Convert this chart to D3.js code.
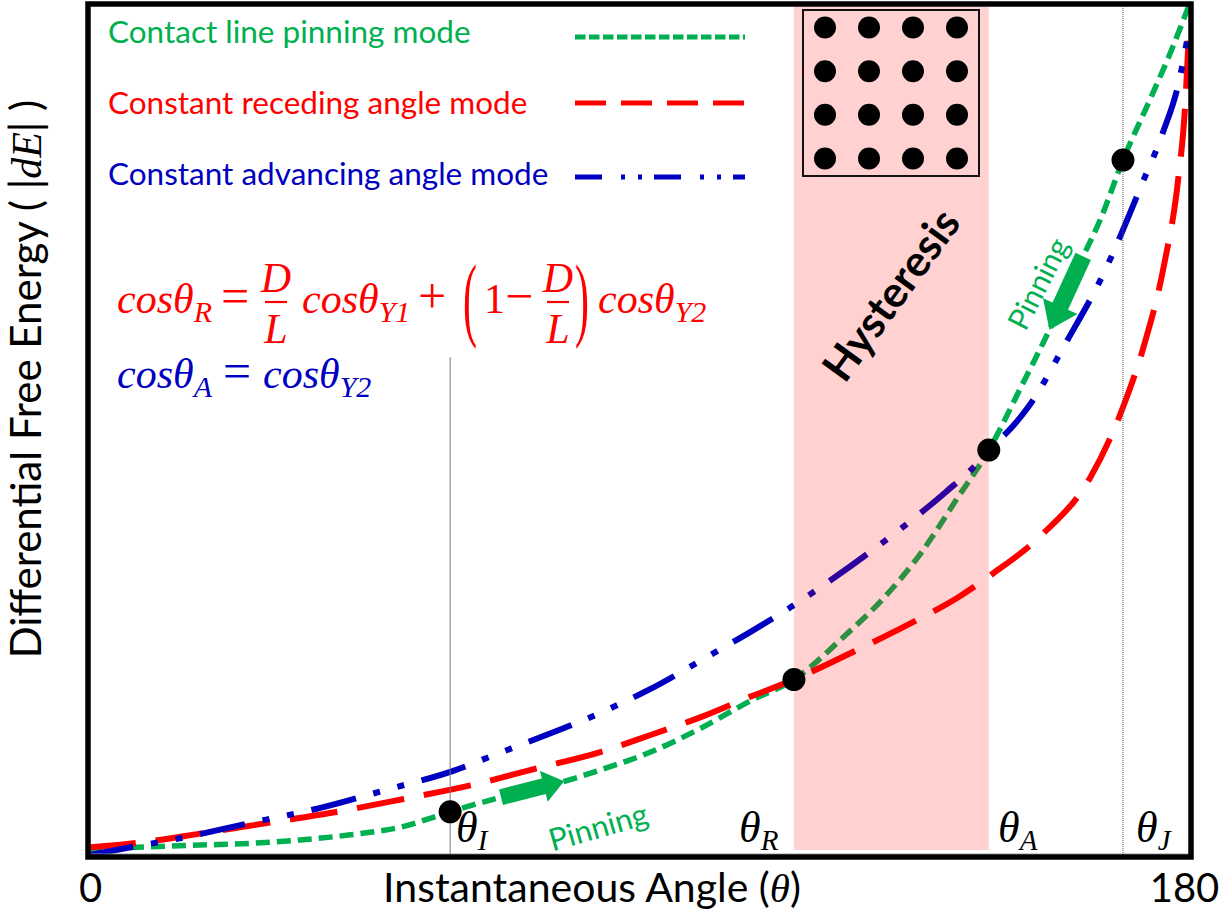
<!DOCTYPE html>
<html>
<head>
<meta charset="utf-8">
<script src="https://cdn.jsdelivr.net/npm/d3@7"></script>
<style>
  html, body { margin: 0; padding: 0; background: #fff; }
  svg { display: block; }
</style>
</head>
<body>
<svg id="chart" width="1231" height="919"></svg>
<script>
// Differential free energy |dE| against instantaneous contact angle θ (degrees)
// for the three droplet evaporation modes.
const pinningTheta  = [0, 10.1, 18.3, 26.5, 34.6, 42.8, 51.0, 59.1, 67.3, 75.5, 83.6, 91.8, 100.0, 108.1, 115.2, 123.3, 129.9, 135.9, 141.9, 147.0, 152.2, 157.1, 162.0, 165.3, 168.9, 173.5, 176.7, 179.7];
const pinningEnergy = [0.9, 1.2, 1.4, 1.6, 2.0, 2.6, 3.5, 5.3, 7.0, 8.4, 10.2, 12.3, 15.1, 18.3, 20.8, 25.8, 30.4, 35.6, 42.1, 47.7, 55.0, 62.1, 69.8, 74.9, 81.7, 89.1, 94.4, 99.9];

const recedingTheta  = [0, 7.4, 18.8, 29.4, 40.7, 51.5, 62.4, 73.3, 83.6, 91.8, 100.0, 108.1, 115.2, 125.6, 135.6, 141.9, 147.8, 155.7, 163.5, 169.1, 172.3, 175.6, 177.9, 179.0, 179.7];
const recedingEnergy = [1.1, 1.6, 2.8, 4.0, 5.3, 6.8, 8.4, 10.4, 12.3, 14.3, 16.4, 18.8, 20.8, 24.3, 27.9, 30.4, 33.3, 37.8, 44.4, 53.1, 59.9, 69.4, 79.4, 87.6, 97.2];

const advancingTheta  = [0, 7.4, 15.0, 26.5, 37.6, 48.8, 59.6, 66.8, 83.6, 91.8, 102.1, 108.6, 114.7, 121.7, 127.7, 133.9, 140.0, 145.2, 147.0, 150.8, 153.5, 159.6, 165.6, 172.0, 175.4, 177.9, 179.8];
const advancingEnergy = [0.2, 1.2, 2.2, 4.0, 5.7, 7.9, 10.1, 12.1, 16.9, 19.7, 23.9, 26.6, 29.3, 32.7, 35.8, 39.2, 42.8, 46.2, 47.7, 50.4, 52.8, 60.3, 68.2, 78.9, 84.9, 90.5, 97.5];

// Characteristic angles θ_I, θ_R, θ_A, θ_J on the pinning curve
const keySubscripts = ["I", "R", "A", "J"];
const keyTheta  = [59.1, 115.2, 147.0, 168.9];
const keyEnergy = [5.3, 20.8, 47.7, 81.7];

const legendLabels = ["Contact line pinning mode", "Constant receding angle mode", "Constant advancing angle mode"];
const xTickValues = [0, 180];
const pillarRows = [0, 1, 2, 3];
const pillarCols = [0, 1, 2, 3];

const sans  = "Lato, 'Noto Sans', sans-serif";
const serif = "'Liberation Serif', 'DejaVu Serif', serif";
const GREEN = "#00B050", RED = "#FF0000", BLUE = "#0000C0";

const svg = d3.select("#chart");
const frame = { left: 88, right: 1191, top: 4, bottom: 857 };

const x = d3.scaleLinear().domain([0, 180]).range([frame.left, frame.right]);
const y = d3.scaleLinear().domain([0, 100]).range([frame.bottom, frame.top]);

svg.append("defs").append("clipPath").attr("id", "plotClip")
  .append("rect")
  .attr("x", frame.left).attr("y", frame.top)
  .attr("width", frame.right - frame.left).attr("height", frame.bottom - frame.top);

const series = [
  { name: legendLabels[0], theta: pinningTheta,   energy: pinningEnergy,   color: GREEN, width: 5.5, dash: "14,7",             legendDash: "10.5,3.5",          legendY: 37 },
  { name: legendLabels[1], theta: recedingTheta,  energy: recedingEnergy,  color: RED,   width: 6,   dash: "48,20",            legendDash: "31,15",             legendY: 103 },
  { name: legendLabels[2], theta: advancingTheta, energy: advancingEnergy, color: BLUE,  width: 6,   dash: "46,18,7,18,7,18",  legendDash: "27,19,4,13,4,12",   legendY: 177 }
];

const line = d3.line()
  .x(d => x(d[0]))
  .y(d => y(d[1]))
  .curve(d3.curveMonotoneX);

// Curves
const curves = svg.append("g").attr("clip-path", "url(#plotClip)");
series.forEach(s => {
  curves.append("path")
    .datum(d3.zip(s.theta, s.energy))
    .attr("d", line)
    .attr("fill", "none")
    .attr("stroke", s.color)
    .attr("stroke-width", s.width)
    .attr("stroke-dasharray", s.dash);
});

// Hysteresis window between θ_R and θ_A (translucent so curves beneath take its tint)
svg.append("rect")
  .attr("x", x(keyTheta[1]))
  .attr("y", frame.top + 3)
  .attr("width", x(keyTheta[2]) - x(keyTheta[1]))
  .attr("height", frame.bottom - frame.top - 10)
  .attr("fill", "#FF0000")
  .attr("opacity", 0.18);

// Pillar array sketch
const box = { x0: 803, x1: 979, y0: 10, y1: 176 };
svg.append("rect")
  .attr("x", box.x0).attr("y", box.y0)
  .attr("width", box.x1 - box.x0).attr("height", box.y1 - box.y0)
  .attr("fill", "none").attr("stroke", "#111").attr("stroke-width", 2);
const px = d3.scalePoint().domain(pillarCols).range([box.x0, box.x1]).padding(0.5);
const py = d3.scalePoint().domain(pillarRows).range([box.y0, box.y1]).padding(0.4);
svg.append("g").selectAll("circle")
  .data(d3.cross(pillarRows, pillarCols))
  .join("circle")
  .attr("cx", d => px(d[1]))
  .attr("cy", d => py(d[0]))
  .attr("r", 11)
  .attr("fill", "#000");

svg.append("text")
  .attr("transform", "translate(890,294) rotate(-54)")
  .attr("text-anchor", "middle")
  .attr("dominant-baseline", "central")
  .attr("font-family", sans)
  .attr("font-weight", 700)
  .attr("font-size", 43)
  .attr("fill", "#000")
  .text("Hysteresis");

// Guide lines at θ_I and θ_J
svg.append("line")
  .attr("x1", x(keyTheta[0])).attr("x2", x(keyTheta[0]))
  .attr("y1", y(58.6)).attr("y2", frame.bottom)
  .attr("stroke", "#7a7a7a").attr("stroke-width", 1);
svg.append("line")
  .attr("x1", x(keyTheta[3])).attr("x2", x(keyTheta[3]))
  .attr("y1", frame.top).attr("y2", frame.bottom + 3)
  .attr("stroke", "#555").attr("stroke-width", 1)
  .attr("stroke-dasharray", "1,1");

// Pinning direction arrows along the pinning curve
const pinningAt = d3.scaleLinear().domain(pinningTheta).range(pinningEnergy);
function blockArrow(t0, t1, bodyHalf, headHalf, headLen) {
  const x0 = x(t0), y0 = y(pinningAt(t0));
  const x1 = x(t1), y1 = y(pinningAt(t1));
  const len = Math.hypot(x1 - x0, y1 - y0);
  const ang = Math.atan2(y1 - y0, x1 - x0) * 180 / Math.PI;
  const pts = [[0, -bodyHalf], [len - headLen, -bodyHalf], [len - headLen, -headHalf], [len, 0],
               [len - headLen, headHalf], [len - headLen, bodyHalf], [0, bodyHalf]];
  svg.append("polygon")
    .attr("points", pts.map(p => p.join(",")).join(" "))
    .attr("transform", `translate(${x0},${y0}) rotate(${ang})`)
    .attr("fill", GREEN);
}
blockArrow(67.4, 77.7, 8, 16, 21);
blockArrow(162.4, 156.9, 8.5, 19, 26);

svg.append("text")
  .attr("transform", "translate(598,826) rotate(-16)")
  .attr("text-anchor", "middle").attr("dominant-baseline", "central")
  .attr("font-family", sans).attr("font-size", 31).attr("fill", GREEN)
  .text("Pinning");
svg.append("text")
  .attr("transform", "translate(1037,283) rotate(-63)")
  .attr("text-anchor", "middle").attr("dominant-baseline", "central")
  .attr("font-family", sans).attr("font-size", 30).attr("fill", GREEN)
  .text("Pinning");

// Key points and their θ labels
svg.append("g").selectAll("circle")
  .data(d3.zip(keyTheta, keyEnergy))
  .join("circle")
  .attr("cx", d => x(d[0]))
  .attr("cy", d => y(d[1]))
  .attr("r", 11.5)
  .attr("fill", "#000");

const keyLabelX = [456, 739, 998, 1136];
keySubscripts.forEach((sub, i) => {
  const t = svg.append("text")
    .attr("x", keyLabelX[i]).attr("y", 842)
    .attr("font-family", serif).attr("font-style", "italic")
    .attr("font-size", 44).attr("fill", "#000");
  t.append("tspan").text("θ");
  t.append("tspan").attr("dy", 8).attr("font-size", 29).text(sub);
});

// X axis baseline with end labels
const xAxis = svg.append("g")
  .attr("transform", `translate(0,${frame.bottom - 3.5})`)
  .call(d3.axisBottom(x).tickValues(xTickValues).tickSize(0).tickSizeOuter(0).tickPadding(20).tickFormat(d3.format("d")));
xAxis.select(".domain").attr("stroke", "#999").attr("stroke-width", 1);
xAxis.selectAll("text").attr("font-family", sans).attr("font-size", 40).attr("fill", "#000")
  .attr("dx", d => d === 180 ? -7 : 2);

// Plot frame
svg.append("rect")
  .attr("x", frame.left).attr("y", frame.top)
  .attr("width", frame.right - frame.left).attr("height", frame.bottom - frame.top)
  .attr("fill", "none").attr("stroke", "#000").attr("stroke-width", 5.5);

// Axis titles
const xTitle = svg.append("text")
  .attr("x", 592).attr("y", 902)
  .attr("text-anchor", "middle")
  .attr("font-family", sans).attr("font-size", 41).attr("fill", "#000");
xTitle.append("tspan").text("Instantaneous Angle (");
xTitle.append("tspan").attr("font-family", serif).attr("font-style", "italic").text("θ");
xTitle.append("tspan").text(")");

const yTitle = svg.append("text")
  .attr("transform", "translate(41,379) rotate(-90)")
  .attr("text-anchor", "middle")
  .attr("font-family", sans).attr("font-size", 42).attr("fill", "#000");
yTitle.append("tspan").text("Differential Free Energy ( |");
yTitle.append("tspan").attr("font-family", serif).attr("font-style", "italic").text("dE");
yTitle.append("tspan").text("| )");

// Legend
const legendTextY = [43, 114, 185];
series.forEach((s, i) => {
  svg.append("text")
    .attr("x", 108).attr("y", legendTextY[i])
    .attr("font-family", sans).attr("font-size", 31.5).attr("fill", s.color)
    .text(s.name);
  svg.append("line")
    .attr("x1", 575).attr("x2", 745)
    .attr("y1", s.legendY).attr("y2", s.legendY)
    .attr("stroke", s.color).attr("stroke-width", 5)
    .attr("stroke-dasharray", s.legendDash);
});

// Mode relations
const formula = svg.append("g").attr("font-family", serif);
function mathTerm(xPos, base, main, sub, color) {
  const t = formula.append("text")
    .attr("x", xPos).attr("y", base)
    .attr("font-style", "italic").attr("font-size", 42).attr("fill", color);
  t.append("tspan").text(main);
  if (sub) t.append("tspan").attr("dy", 9).attr("font-size", 30).text(sub);
}
function symbol(xPos, base, s, color, size) {
  formula.append("text")
    .attr("x", xPos).attr("y", base)
    .attr("font-size", size).attr("fill", color)
    .text(s);
}
function fraction(cx, base, color) {
  formula.append("text").attr("x", cx).attr("y", base - 21)
    .attr("text-anchor", "middle").attr("font-style", "italic")
    .attr("font-size", 42).attr("fill", color).text("D");
  formula.append("line")
    .attr("x1", cx - 11).attr("x2", cx + 11)
    .attr("y1", base - 11).attr("y2", base - 11)
    .attr("stroke", color).attr("stroke-width", 2.2);
  formula.append("text").attr("x", cx).attr("y", base + 30)
    .attr("text-anchor", "middle").attr("font-style", "italic")
    .attr("font-size", 42).attr("fill", color).text("L");
}
function paren(xPos, base, s, color) {
  formula.append("text")
    .attr("transform", `translate(${xPos},${base + 16}) scale(1,2.2)`)
    .attr("font-size", 42).attr("fill", color).text(s);
}

const rBase = 313;
mathTerm(117, rBase, "cosθ", "R", RED);
symbol(221, rBase, "=", RED, 50);
fraction(276, rBase, RED);
mathTerm(302, rBase, "cosθ", "Y1", RED);
symbol(418, rBase, "+", RED, 50);
paren(463, rBase, "(", RED);
symbol(484, rBase, "1", RED, 42);
symbol(505, rBase, "−", RED, 50);
fraction(558, rBase, RED);
paren(575, rBase, ")", RED);
mathTerm(598, rBase, "cosθ", "Y2", RED);

const aBase = 388;
mathTerm(117, aBase, "cosθ", "A", BLUE);
symbol(223, aBase, "=", BLUE, 50);
mathTerm(263, aBase, "cosθ", "Y2", BLUE);
</script>
</body>
</html>
